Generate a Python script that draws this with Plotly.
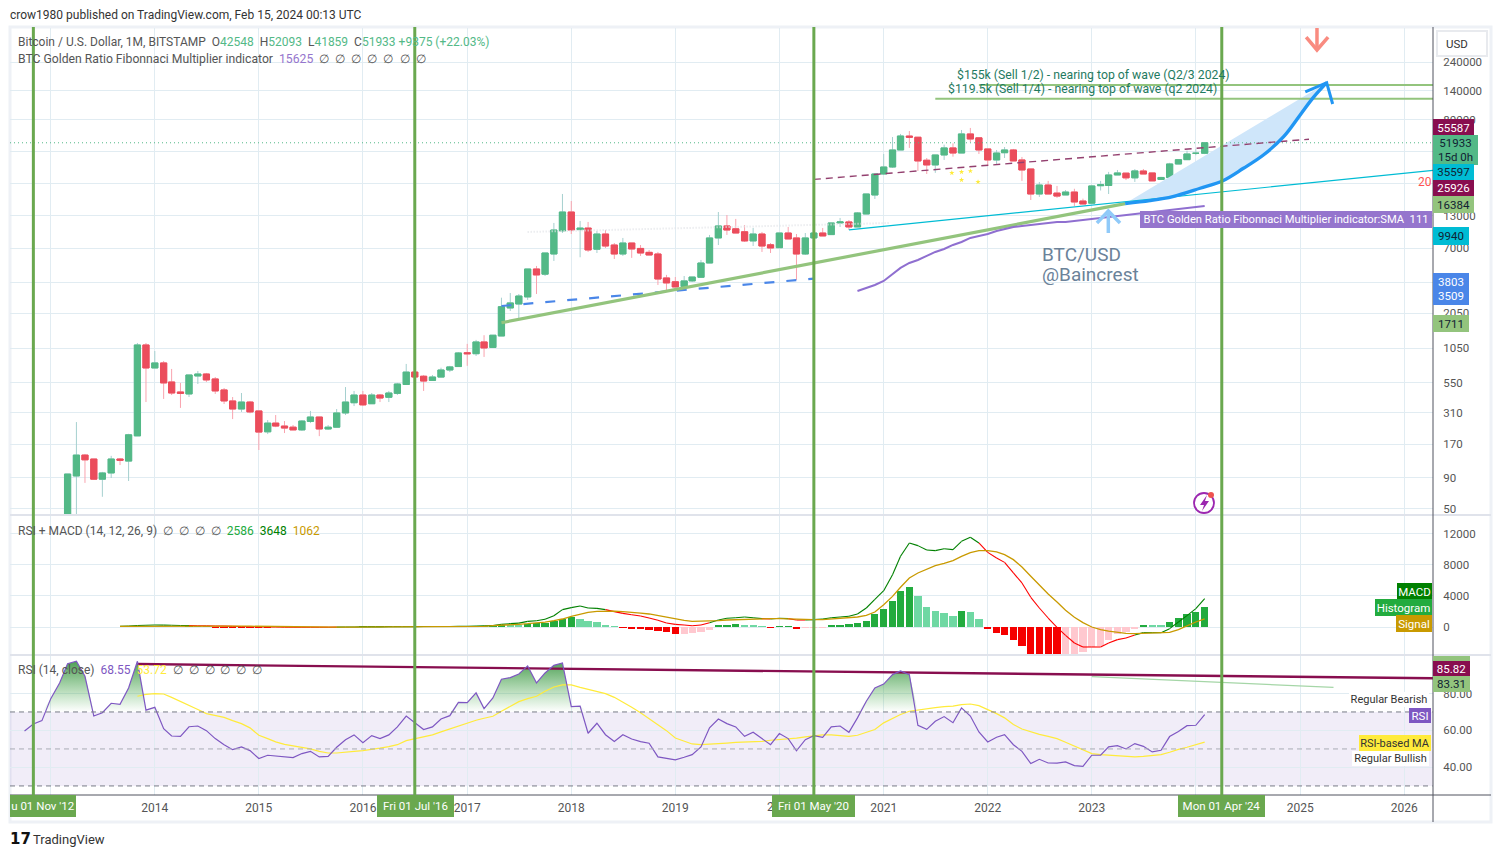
import pandas as pd
import plotly.graph_objects as go
from math import log10

W, H = 1501, 857
FONT = "Roboto"

# ---------- price candles (monthly, Mar 2013 - Feb 2024) ----------
candle_start = "2013-03-01"
opens = [33,93.5,139,129,88,99,129,124,200,1122,
 725,798,556,460,443,623,647,589,478,388,333,380,
 321,216,255,241,236,224,263,286,228,236,309,375,
 434,368,434,416,448,530,671,620,573,610,698,745,
 968,950,1188,1070,1330,2263,2440,2790,4740,4300,6300,9760,
 13970,10000,10300,6900,9200,7470,6300,7760,7000,6500,6300,4000,
 3720,3400,3780,4050,5310,8540,10720,10150,9600,8070,9200,7500,
 7100,9380,8540,6300,8540,9380,9100,11350,11570,10520,13450,19290,
 28730,32800,45300,59000,57700,37300,34100,41200,47100,42750,61400,57000,
 46200,37500,43000,45300,37500,31600,19650,23300,20000,19300,20400,17200,
 16500,23000,23100,28200,29200,26700,30400,29300,25900,26900,34700,37700,
 42500,42548]
closes = [97,139,127,88,99,129,126,204,1122,725,
 798,546,451,448,635,647,578,469,388,333,380,315,
 215,255,241,232,224,265,286,228,236,309,380,434,
 360,434,410,451,535,671,611,566,611,698,740,964,
 950,1188,1060,1350,2320,2490,2840,4740,4235,6420,9930,13970,
 9930,10300,6800,9200,7330,6300,7760,6930,6420,6180,3920,3640,
 3370,3780,4070,5310,8540,10720,9930,9380,8070,9200,7330,7060,
 9380,8380,6300,8540,9380,8870,11350,11570,10520,13720,19666,28730,
 32800,45300,59050,57700,36800,34100,41200,47100,42750,61400,55800,45300,
 37500,42750,45300,36800,31000,19650,23300,19650,18900,20400,16900,16270,
 22900,23400,28200,29300,26700,30450,28730,25200,26900,34750,37700,42000,
 42600,51933]
highs = [97,260,142,129,101,137,131,208,1165,1165,
 1000,828,712,546,635,685,660,611,496,418,451,388,
 321,270,297,265,246,270,321,286,246,333,505,469,
 469,451,443,469,546,783,671,635,635,729,755,982,
 1145,1235,1350,1350,2750,3005,2950,4740,5020,6420,11350,19666,
 17200,11790,11570,9760,9930,7760,8540,7760,7470,6800,6550,4240,
 4070,4150,4070,5625,9040,13970,13200,12250,10920,10320,9570,7760,
 9380,10520,9200,9380,10150,10320,11350,12480,12000,13970,19666,28730,
 41990,57950,61400,64900,58000,38900,41200,50100,51400,66200,68800,57000,
 46200,45300,47900,46200,39700,31600,24700,25200,22900,21200,21700,18000,
 23300,25200,29900,31000,29200,31500,31600,29300,27200,35500,38000,44700,
 46000,52093]
lows = [33,45.4,82,87,63,90,115,85,200,380,
 725,403,434,340,418,535,556,443,366,275,315,307,
 153,207,236,211,224,220,255,199,224,236,297,352,
 352,368,380,380,434,530,611,469,573,610,671,745,
 755,910,894,1070,1330,2138,1837,2635,2950,4150,5520,9380,
 9200,5920,6550,6420,7060,5730,6070,5850,6070,6180,3500,3125,
 3370,3400,3700,4050,5310,7470,9040,9380,7910,7330,6550,6420,
 7100,8380,3850,6180,8540,8870,9100,10520,9930,10520,13450,17880,
 28200,32200,45300,47100,30400,28730,29350,37500,39900,42750,52700,42000,
 33400,34100,38900,36800,25200,17540,18600,19650,18250,19300,15650,16270,
 16500,21000,19650,28200,25600,24700,28730,25200,25900,26900,34700,37700,
 41000,41859]

# ---------- SMA indicator (Oct 2020 - Feb 2024) ----------
sma_start = "2020-10-01"
sma_values = [3125,3306,3500,3778,4315,4835,5315,5625,6070,6550,6930,7480,7910,8540,8870,9210,9750,
 10120,10520,10720,10920,11130,11350,11560,11560,11790,12010,12240,12480,12710,12960,13210,13450,
 13720,13980,14250,14520,14800,15080,15370,15625]

# ---------- MACD pane ----------
macd_start = "2013-09-01"
macd_values = [100,130,190,230,
 260,240,220,190,180,170,150,130,110,80,60,40,
 20,0,-10,-20,-30,-30,-30,-30,-30,-20,-10,0,
 10,15,20,25,30,40,50,55,60,65,70,85,
 100,130,140,200,340,430,500,730,800,990,1460,2240,
 2500,2700,2450,2400,2240,1980,1760,1590,1420,1160,860,520,
 340,260,170,260,560,900,1120,1200,1290,1200,1075,1030,
 1120,1075,900,900,950,1030,1200,1290,1380,1680,2450,3570,
 4690,6750,9120,10840,10500,9930,9850,10100,9980,11050,11570,10840,
 9630,8900,8340,6970,5680,3830,2450,1160,-40,-1075,-2060,-2580,
 -2580,-2580,-2060,-1630,-1420,-1030,-730,-730,-730,-215,645,1460,
 2365,3648]
signal_values = [70,75,100,120,
 150,165,175,178,178,176,170,160,150,135,118,100,
 80,65,50,35,25,15,5,0,-5,-10,-10,-10,
 -5,0,5,10,15,20,25,30,35,40,45,50,
 60,70,80,170,210,280,350,430,520,640,820,1030,
 1380,1680,1890,2020,2060,2060,1980,1935,1800,1680,1460,1250,
 1030,860,730,730,730,820,900,950,950,1030,1075,1075,
 1075,1030,950,950,950,950,1030,1120,1200,1290,1500,1935,
 2880,3950,5120,6320,6970,7480,7910,8210,8560,9120,9590,9850,
 9850,9680,9330,8690,7740,6540,5380,4260,3230,2150,1250,560,
 0,-340,-520,-690,-820,-860,-820,-820,-775,-690,-340,170,
 645,1062]
hist_start = "2014-05-01"
hist_values = [40,30,25,-20,-40,-50,-60,-70,
 -80,-85,-75,-65,-55,-45,-35,-25,-20,-15,-10,-5,
 10,15,20,25,30,35,40,45,50,48,45,55,
 70,80,60,170,300,300,300,430,470,560,730,1030,
 1250,1075,820,645,300,43,-40,-170,-300,-430,-560,-645,
 -860,-855,-730,-600,-340,170,300,430,300,170,43,-40,
 20,25,-215,-130,-40,-30,170,260,340,470,820,1720,
 2365,3400,4690,5200,3960,2620,2100,1850,1460,2100,1935,1075,
 -215,-730,-990,-1630,-2490,-3500,-3700,-3900,-4000,-3800,-3600,-3180,
 -2580,-2400,-1630,-900,-645,-215,180,175,170,645,1160,1720,
 1980,2586]

# ---------- RSI pane ----------
rsi_start = "2012-10-01"
rsi_values = [59.7,63.5,65.3,
 77.2,85.7,96.1,97.4,89.3,67.8,69.6,74.7,74.1,83,97.4,71,
 72.5,61,57,56.8,62,62.4,59.9,55.6,52.3,49.6,51.1,49.1,
 44.8,46.6,46.2,45.7,45.3,47.5,48.7,45.7,46,50.9,55,57.6,
 53.4,57.2,55.6,57.6,61.9,67.8,64.2,60.5,61.9,66.2,68,75.2,
 75,80.3,71.8,77.6,87.7,88.6,90.5,94.9,85.7,91.1,95.2,96.5,
 72.9,73.2,58.5,63.9,57.7,54.1,57.7,55.4,54,53.1,45.7,45,
 44.1,45.5,46.9,51.1,61.4,66.2,63.7,61.9,56.8,59,55.6,52.3,
 58.3,55.6,49,55,57.2,56.3,61.9,62.4,59,66.8,75.8,83,
 85.1,90.2,92.2,90.2,62.8,60.6,65,67.5,64.2,72.2,67.8,59.2,
 53.8,56.3,57.7,52.3,48.7,42.1,44.4,42.4,42.3,43,41,40.6,
 46.6,46.6,51.1,51.8,50,52.9,51.4,48.4,49.3,56.7,59.4,62.6,
 62.8,68.55]
rsi_ma_start = "2013-11-01"
rsi_ma_values = [78.5,79.5,
 79.9,79.7,77.9,75.8,73.6,71.3,69.1,68.2,67.1,65.3,63.7,61.4,
 57.4,55.6,53.8,52.5,51.8,50.9,50,48.7,47.8,47.8,48.4,48.7,
 49.1,49.6,50.4,51.3,52.3,54.5,55.6,56.5,57.6,59.2,60.8,62.4,
 64.1,65.5,66.6,67.7,70.4,73.1,75.6,77.2,78.5,81.2,83.5,84.6,
 84.6,83.3,82.2,81.2,79.9,77.9,75.4,72.5,69.6,66.4,63.2,59.9,
 55.9,54.1,52.7,52.3,52.5,52.9,53.2,53.6,53.8,53.8,54.1,54.7,
 55,55.6,55.9,56.5,57,57.6,57.6,57.2,56.8,57.4,59.2,60.5,
 64.1,66.4,68.6,70.4,70.9,71.6,72.3,72.9,73.2,74,74.3,73.4,
 71.3,69.1,66.8,63.2,60.8,59.2,57.9,56.8,55.6,53.6,51.4,49.3,
 47.5,46.9,46.6,46.4,45.7,45.7,46,46.6,46.9,48.2,49.8,50.9,
 52.3,53.72]

# ---------- drawings ----------
x_left, x_right = "2012-08-11", "2026-04-12"
marker_dates = ["2012-11-01", "2016-07-01", "2020-05-01", "2024-04-01"]
blue_dash_x, blue_dash_y = ["2017-05-01", "2020-05-01"], [2350, 3950]
green_trend_x, green_trend_y = ["2017-05-01", "2023-04-28"], [1711, 16384]
cyan_x, cyan_y = ["2020-09-01", x_right], [9940, 30800]
maroon_x, maroon_y = ["2020-05-01", "2025-02-01"], [25926, 55587]
faint_x, faint_y = ["2017-08-01", "2021-01-25"], [9570, 11340]
target_levels = [155300, 119900]
target_starts = ["2021-12-01", "2021-07-01"]
curve_x = ["2023-04-28","2023-07-24","2023-10-12","2024-01-16","2024-04-05","2024-06-16","2024-08-25","2024-11-04","2025-01-01","2025-02-15","2025-04-04"]
curve_y = [16384,17320,18700,21920,25300,32000,41200,58300,88000,121600,162300]
head_x = ["2025-01-19","2025-04-04","2025-04-25"]
head_y = [136100,162300,108400]
up_x = ["2023-01-19","2023-02-28","2023-04-10"]
up_y = [11340,14250,11340]
up_shaft_x, up_shaft_y = ["2023-02-28","2023-02-28"], [14250,9380]
down_x = ["2025-01-22","2025-03-01","2025-04-09"]
down_y = [386000,302000,386000]
down_shaft_x, down_shaft_y = ["2025-03-01","2025-03-01"], [302000,458000]
star_x = ["2021-08-28","2021-10-01","2021-11-01","2021-10-01","2021-11-28"]
star_y = [29300,29860,30400,25640,24700]
rsi_trend_x, rsi_trend_y = ["2013-11-01", x_right], [95.9,88.2]
rsi_green_x, rsi_green_y = ["2023-01-01","2025-04-28"], [89.1,83.31]

main_ticks = [50,90,170,310,550,1050,2050,3700,7000,13000,24000,44000,80000,140000,240000]
main_labels = ["50","90","170","310","550","1050","2050","","7000","13000","","","80000","140000","240000"]
year_ticks = [f"{y}-01-01" for y in range(2013, 2027)]
year_labels = ["","2014","2015","2016","2017","2018","2019","","2021","2022","2023","","2025","2026"]

GREEN, RED = "#53b987", "#eb4d5c"
GREEN_W, RED_W = "#a5d0cf", "#f9a3ae"
MARK = "#6aa84f"
GRID = "#e1ecf2"

def months(start, n):
    return pd.date_range(start, periods=n, freq="MS")

cx = months(candle_start, len(opens))
fig = go.Figure()

def line(x, y, color, width, ya="y", xa="x", dash=None, opacity=1.0, shape="linear"):
    fig.add_trace(go.Scatter(x=x, y=y, mode="lines", xaxis=xa, yaxis=ya, opacity=opacity,
                             line=dict(color=color, width=width, dash=dash, shape=shape), hoverinfo="skip"))

# drawings under the candles
line(faint_x, faint_y, "#e2e4e8", 2, dash="1px,2px")
fig.add_trace(go.Scatter(x=curve_x + [curve_x[0]], y=curve_y + [curve_y[0]], mode="none", fill="toself",
                         fillcolor="#cfe6fa", hoverinfo="skip"))
for s, lv in zip(target_starts, target_levels):
    line([s, x_right], [lv, lv], "#93c47d", 2)
line([x_left, x_right], [closes[-1], closes[-1]], GREEN, 1, dash="1px,3px")

# candles: wick trace then body trace
fig.add_trace(go.Candlestick(x=cx, open=opens, high=highs, low=lows, close=closes, whiskerwidth=0,
    increasing=dict(line=dict(color=GREEN_W, width=1), fillcolor=GREEN),
    decreasing=dict(line=dict(color=RED_W, width=1), fillcolor=RED), hoverinfo="skip"))
body_hi = [max(a, b) for a, b in zip(opens, closes)]
body_lo = [min(a, b) for a, b in zip(opens, closes)]
fig.add_trace(go.Candlestick(x=cx, open=opens, high=body_hi, low=body_lo, close=closes, whiskerwidth=0,
    increasing=dict(line=dict(color=GREEN, width=1), fillcolor=GREEN),
    decreasing=dict(line=dict(color=RED, width=1), fillcolor=RED), hoverinfo="skip"))

line(blue_dash_x, blue_dash_y, "#4a86e8", 2.2, dash="10px,12px")
line(green_trend_x, green_trend_y, "#93c47d", 3.2)
line(cyan_x, cyan_y, "#00bcd4", 1.2)
line(maroon_x, maroon_y, "#93406f", 1.4, dash="7px,5px")
line(months(sma_start, len(sma_values)), sma_values, "#8f6fd0", 2)
line(curve_x, curve_y, "#2196f3", 3.4, shape="spline")
line(head_x, head_y, "#2196f3", 3)
line(up_x, up_y, "#90caf9", 3.5)
line(up_shaft_x, up_shaft_y, "#90caf9", 3.5)
line(down_x, down_y, "#f98b80", 3.5)
line(down_shaft_x, down_shaft_y, "#f98b80", 3.5)
fig.add_trace(go.Scatter(x=star_x, y=star_y, mode="markers", hoverinfo="skip",
                         marker=dict(symbol="star", size=4, color="#ffeb3b")))

# MACD pane
hx = months(hist_start, len(hist_values))
hist_colors = []
prev = 0
for v_ in hist_values:
    if v_ >= 0:
        hist_colors.append("#22ab3e" if v_ > prev else "#6fd8a3")
    else:
        hist_colors.append("#f50000" if v_ < prev else "#ffc8cf")
    prev = v_
fig.add_trace(go.Bar(x=hx, y=hist_values, marker=dict(color=hist_colors, line=dict(width=0)),
                     width=25.5 * 86400000, xaxis="x2", yaxis="y2", hoverinfo="skip"))
mx = months(macd_start, len(macd_values))
for i in range(len(macd_values) - 1):
    up = macd_values[i + 1] >= signal_values[i + 1]
    line(mx[i:i + 2], macd_values[i:i + 2], "#008000" if up else "#ff0000", 1.1, "y2", "x2")
line(mx, signal_values, "#c99a00", 1.3, "y2", "x2")

# RSI pane
rx = months(rsi_start, len(rsi_values))
line(rx, [70] * len(rx), "rgba(0,0,0,0)", 0, "y3", "x3")
fig.add_trace(go.Scatter(x=rx, y=[max(v_, 70) for v_ in rsi_values], mode="none", xaxis="x3", yaxis="y3",
    fill="tonexty", hoverinfo="skip",
    fillgradient=dict(type="vertical", start=70, stop=97,
                      colorscale=[[0, "rgba(76,175,80,0)"], [1, "rgba(62,150,70,0.9)"]])))
line(rsi_trend_x, rsi_trend_y, "#880e4f", 2.4, "y3", "x3")
line(rsi_green_x, rsi_green_y, "#a5d6a7", 1.2, "y3", "x3")
line(months(rsi_ma_start, len(rsi_ma_values)), rsi_ma_values, "#ffeb3b", 1.2, "y3", "x3")
line(rx, rsi_values, "#7e57c2", 1.2, "y3", "x3")

# ---------- helpers in page pixels ----------
def px(x): return x / W
def py(y): return 1 - y / H

annos, shapes = [], []
def text(t, x, y, size=12, color="#555", anchor="left", font=FONT):
    annos.append(dict(text=t, x=px(x), y=py(y), xref="paper", yref="paper", showarrow=False,
                      xanchor=anchor, yanchor="middle", font=dict(family=font, size=size, color=color),
                      borderpad=0, borderwidth=0))
def tag(t, x0, x1, y0, y1, bg, color="#fff", size=11.5):
    annos.append(dict(text=t, x=px(x0), y=py(y0), xref="paper", yref="paper", showarrow=False,
                      xanchor="left", yanchor="top", width=x1 - x0, height=y1 - y0, align="center",
                      valign="middle", bgcolor=bg, font=dict(family=FONT, size=size, color=color),
                      borderpad=0, borderwidth=0))
def rect(x0, y0, x1, y1, fill=None, lc=None, lw=0, layer="above"):
    shapes.append(dict(type="rect", xref="paper", yref="paper", x0=px(x0), x1=px(x1), y0=py(y0), y1=py(y1),
                       fillcolor=fill, line=dict(color=lc, width=lw), layer=layer))
def seg(x0, y0, x1, y1, color, width, layer="above"):
    shapes.append(dict(type="line", xref="paper", yref="paper", x0=px(x0), x1=px(x1), y0=py(y0), y1=py(y1),
                       line=dict(color=color, width=width), layer=layer))

# frame and pane separators
rect(10, 27, 1491, 822, None, "#eef1f6", 3, "below")
seg(10, 515, 1491, 515, "#e0e3eb", 2)
seg(10, 655, 1491, 655, "#e0e3eb", 2)
seg(10, 795, 1491, 795, "#50535e", 1)
seg(1433, 27, 1433, 822, "#50535e", 1)

# RSI band
shapes.append(dict(type="rect", xref="x3 domain", yref="y3", x0=0, x1=1, y0=30, y1=70,
                   fillcolor="rgba(126,87,194,0.11)", line=dict(width=0), layer="below"))
for lv, col in [(70, "#787b86"), (50, "#a8abb4"), (30, "#787b86")]:
    shapes.append(dict(type="line", xref="x3 domain", yref="y3", x0=0, x1=1, y0=lv, y1=lv,
                       line=dict(color=col, width=1, dash="5px,4px"), layer="above"))

# vertical markers
for d in marker_dates:
    shapes.append(dict(type="line", xref="x", yref="paper", x0=d, x1=d, y0=py(795), y1=py(27),
                       line=dict(color=MARK, width=3), layer="above"))

# legends and titles
text("crow1980 published on TradingView.com, Feb 15, 2024 00:13 UTC", 10, 15, 12, "#333")
v = lambda s, c: f'<span style="color:{c}">{s}</span>'
text("Bitcoin / U.S. Dollar, 1M, BITSTAMP  O" + v("42548", GREEN) + "  H" + v("52093", GREEN) + "  L" + v("41859", GREEN)
     + "  C" + v("51933", GREEN) + " " + v("+9375 (+22.03%)", GREEN), 18, 42, 12)
text("BTC Golden Ratio Fibonnaci Multiplier indicator  " + v("15625", "#9575cd") + "  ∅  ∅  ∅  ∅  ∅  ∅  ∅", 18, 59, 12.2)
text("RSI + MACD (14, 12, 26, 9)  ∅  ∅  ∅  ∅  " + v("2586", "#22ab3e") + "  " + v("3648", "#008000") + "  " + v("1062", "#c99a00"), 18, 531, 12)
text("RSI (14, close)  " + v("68.55", "#7e57c2") + "  " + v("53.72", "#ffeb3b") + "  ∅  ∅  ∅  ∅  ∅  ∅", 18, 670, 12)

text("$155k (Sell 1/2) - nearing top of wave (Q2/3 2024)", 957, 75, 12.25, "#1f7a5f")
text("$119.5k (Sell 1/4) - nearing top of wave (q2 2024)", 948, 89, 12.25, "#1f7a5f")
text("BTC/USD", 1042, 254, 19, "#6b8299")
text("@Baincrest", 1042, 274.5, 19, "#6b8299")
text("20", 1418, 182, 12, "#ff5252")
text("2", 767, 807, 12, "#555")

# price axis tags
rect(1437, 31, 1487, 56, "#ffffff", "#e8eaee", 2)
text("USD", 1446, 44, 11.5, "#333")
tag("55587", 1433, 1474, 119, 136, "#880e4f")
tag("51933<br>15d 0h", 1433, 1478, 135, 165, GREEN, "#123", 11.5)
tag("35597", 1433, 1474, 164, 180, "#00bcd4", "#123")
tag("25926", 1433, 1474, 180, 196, "#880e4f")
tag("16384", 1433, 1474, 196, 213, "#93c47d", "#123")
tag("9940", 1433, 1469, 227, 245, "#00bcd4", "#123")
tag("3803<br>3509", 1433, 1469, 273, 305, "#4a86e8")
tag("1711", 1433, 1469, 315, 332, "#93c47d", "#123")
tag("BTC Golden Ratio Fibonnaci Multiplier indicator:SMA  111", 1140, 1432, 211, 228, "#9575cd", "#fff", 11.2)

# MACD tags
tag("MACD", 1397, 1432, 583, 600, "#008000")
tag("Histogram", 1375, 1432, 599, 616, "#22ab3e")
tag("Signal", 1396, 1432, 615, 632, "#c99a00")

# RSI tags
rect(1433, 656, 1470, 661, "#93c47d")
tag("85.82", 1433, 1470, 661, 677, "#880e4f")
tag("83.31", 1433, 1470, 676, 692, "#93c47d", "#123")
tag("Regular Bearish", 1349, 1429, 692, 707, "#ffffff", "#333", 11)
tag("RSI", 1409, 1431, 708, 723, "#7e57c2")
tag("RSI-based MA", 1359, 1431, 735, 751, "#ffeb3b", "#333", 11)
tag("Regular Bullish", 1352, 1429, 751, 766, "#ffffff", "#333", 11)

# date tags
tag("u 01 Nov '12", 10, 76, 795, 817, MARK)
tag("Fri 01 Jul '16", 377, 454, 795, 817, MARK)
tag("Fri 01 May '20", 772, 855, 795, 817, MARK)
tag("Mon 01 Apr '24", 1178, 1265, 795, 817, MARK)

# icon
shapes.append(dict(type="circle", xref="paper", yref="paper", x0=px(1194), x1=px(1214), y0=py(513), y1=py(493),
                   line=dict(color="#9c27b0", width=1.8), fillcolor="#ffffff", layer="above"))
bolt = [(1207, 495), (1200, 505), (1204, 505), (1202, 511), (1209, 501), (1205, 501)]
shapes.append(dict(type="path", xref="paper", yref="paper", layer="above", fillcolor="#9c27b0", line=dict(width=0),
                   path="M " + " L ".join(f"{px(a):.5f},{py(b):.5f}" for a, b in bolt) + " Z"))
shapes.append(dict(type="circle", xref="paper", yref="paper", x0=px(1208), x1=px(1214), y0=py(498), y1=py(492),
                   line=dict(width=0), fillcolor="#ef5350", layer="above"))

# footer
text("<b>17</b>", 10, 839, 15, "#111", font="DejaVu Sans, sans-serif")
text("TradingView", 33, 839, 13, "#333")

xrange = [x_left, x_right]
xdom = [px(10), px(1433)]
def xaxis(anchor, labels):
    return dict(domain=xdom, range=xrange, type="date", anchor=anchor, tickmode="array",
                tickvals=year_ticks, ticktext=year_labels,
                showgrid=True, gridcolor=GRID, gridwidth=1, zeroline=False, showline=False,
                showticklabels=labels, ticks="outside", ticklen=2, tickcolor="rgba(0,0,0,0)",
                tickfont=dict(family=FONT, size=12, color="#555"), rangeslider=dict(visible=False))
def yaxis(anchor, dom, **kw):
    return dict(domain=dom, anchor=anchor, side="right", showgrid=True, gridcolor=GRID, gridwidth=1,
                zeroline=False, showline=False, ticks="outside", ticklen=7, tickcolor="rgba(0,0,0,0)",
                tickfont=dict(family=FONT, size=11.5, color="#555"), **kw)

fig.update_layout(
    width=W, height=H, margin=dict(l=0, r=0, t=0, b=0), paper_bgcolor="#ffffff", plot_bgcolor="#ffffff",
    showlegend=False, hovermode=False, boxmode="overlay", boxgap=0.22, boxgroupgap=0, bargap=0,
    xaxis=xaxis("y", False), xaxis2=xaxis("y2", False), xaxis3=xaxis("y3", True),
    yaxis=yaxis("x", [py(515), py(28)], type="log", range=[log10(44.6), log10(458000)],
                tickmode="array", tickvals=main_ticks, ticktext=main_labels),
    yaxis2=yaxis("x2", [py(655), py(515)], range=[-3613, 14450], tickmode="array",
                 tickvals=[0, 4000, 8000, 12000], ticktext=["0", "4000", "8000", "12000"]),
    yaxis3=yaxis("x3", [py(795), py(655)], range=[25.1, 100.8], tickmode="array",
                 tickvals=[40, 60, 80], ticktext=["40.00", "60.00", "80.00"]),
    annotations=annos, shapes=shapes,
)
fig.write_html("out.html", config=dict(displayModeBar=False),
               post_script="document.body.style.margin='0';document.documentElement.style.overflow='hidden';")
